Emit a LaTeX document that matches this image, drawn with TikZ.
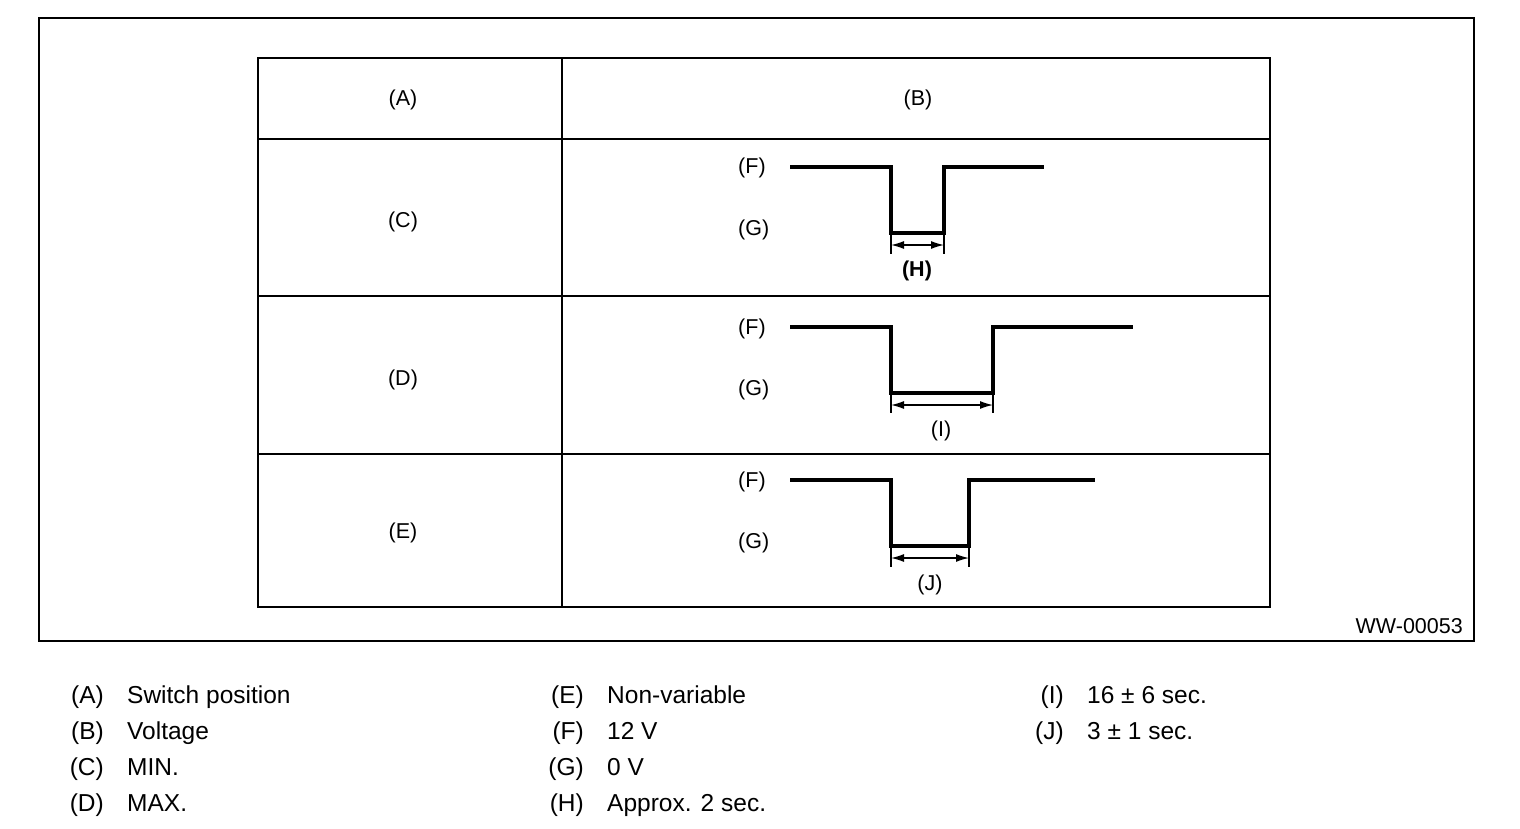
\documentclass[tikz,border=0pt]{standalone}
\usepackage{fontspec}
\setmainfont{Liberation Sans}
\usetikzlibrary{arrows.meta}
\begin{document}
\begin{tikzpicture}[x=1pt,y=-1pt,
  frame/.style={line width=2pt},
  tline/.style={line width=1.4pt},
  wave/.style={line width=3.4pt,line join=miter},
  dimline/.style={line width=1.3pt,{Latex[length=13pt,width=8pt]}-{Latex[length=13pt,width=8pt]}},
  tick/.style={line width=1.5pt},
  tlabel/.style={inner sep=0pt,text height=15.4pt,text depth=0pt,font=\fontsize{21.5}{24}\selectfont},
  wlabel/.style={tlabel,anchor=west},
  legbase/.style={inner sep=0pt,text height=17.5pt,text depth=0pt,font=\fontsize{24.5}{27}\selectfont},
  leglab/.style={legbase,anchor=east},
  legtxt/.style={legbase,anchor=west},
  code/.style={tlabel,anchor=east}]
\useasboundingbox (0,0) rectangle (1520,828);
% outer frame
\draw[frame] (39,18) rectangle (1474,641);
\node[code] (ww) at (1463,626) {WW-00053};
% table
\draw[tline] (258,58) rectangle (1270,607);
\draw[line width=1.8pt] (562,58) -- (562,607);
\draw[line width=1.1pt] (258,139) -- (1270,139);
\draw[line width=1.1pt] (258,296) -- (1270,296);
\draw[line width=1.1pt] (258,454) -- (1270,454);
\node[tlabel] (hA) at (403,98) {(A)};
\node[tlabel] (hB) at (918,98) {(B)};
\node[tlabel] (rC) at (403,220) {(C)};
\node[tlabel] (rD) at (403,378) {(D)};
\node[tlabel] (rE) at (403,531) {(E)};
% row C
\node[wlabel] (cF) at (738,166) {(F)};
\node[wlabel] (cG) at (738,228) {(G)};
\draw[wave] (790,167) -- (891,167) -- (891,233) -- (944,233) -- (944,167) -- (1044,167);
\coordinate (cH1) at (891,245);
\coordinate (cH2) at (944,245);
\draw[tick] (891,235) -- (891,254);
\draw[tick] (944,235) -- (944,254);
\draw[dimline] (cH1) -- (cH2);
\node[tlabel,font=\fontsize{21.5}{24}\selectfont\bfseries] (cH) at (917,269) {(H)};
% row D
\node[wlabel] (dF) at (738,327) {(F)};
\node[wlabel] (dG) at (738,388) {(G)};
\draw[wave] (790,327) -- (891,327) -- (891,393) -- (993,393) -- (993,327) -- (1133,327);
\coordinate (dI1) at (891,405);
\coordinate (dI2) at (993,405);
\draw[tick] (891,395) -- (891,413);
\draw[tick] (993,395) -- (993,413);
\draw[dimline] (dI1) -- (dI2);
\node[tlabel] (dI) at (941,429) {(I)};
% row E
\node[wlabel] (eF) at (738,480) {(F)};
\node[wlabel] (eG) at (738,541) {(G)};
\draw[wave] (790,480) -- (891,480) -- (891,546) -- (969,546) -- (969,480) -- (1095,480);
\coordinate (eJ1) at (891,558);
\coordinate (eJ2) at (969,558);
\draw[tick] (891,548) -- (891,567);
\draw[tick] (969,548) -- (969,567);
\draw[dimline] (eJ1) -- (eJ2);
\node[tlabel] (eJ) at (930,583) {(J)};
% legend
\node[leglab] (lA) at (104,695) {(A)}; \node[legtxt] (tA) at (127,695) {Switch position};
\node[leglab] (lB) at (104,731) {(B)}; \node[legtxt] (tB) at (127,731) {Voltage};
\node[leglab] (lC) at (104,767) {(C)}; \node[legtxt] (tC) at (127,767) {MIN.};
\node[leglab] (lD) at (104,803) {(D)}; \node[legtxt] (tD) at (127,803) {MAX.};
\node[leglab] (lE) at (584,695) {(E)}; \node[legtxt] (tE) at (607,695) {Non-variable};
\node[leglab] (lF) at (584,731) {(F)}; \node[legtxt] (tF) at (607,731) {12 V};
\node[leglab] (lG) at (584,767) {(G)}; \node[legtxt] (tG) at (607,767) {0 V};
\node[leglab] (lH) at (584,803) {(H)}; \node[legtxt] (tH) at (607,803) {Approx. 2 sec.};
\node[leglab] (lI) at (1064,695) {(I)}; \node[legtxt] (tI) at (1087,695) {16 ± 6 sec.};
\node[leglab] (lJ) at (1064,731) {(J)}; \node[legtxt] (tJ) at (1087,731) {3 ± 1 sec.};
\end{tikzpicture}
\end{document}
